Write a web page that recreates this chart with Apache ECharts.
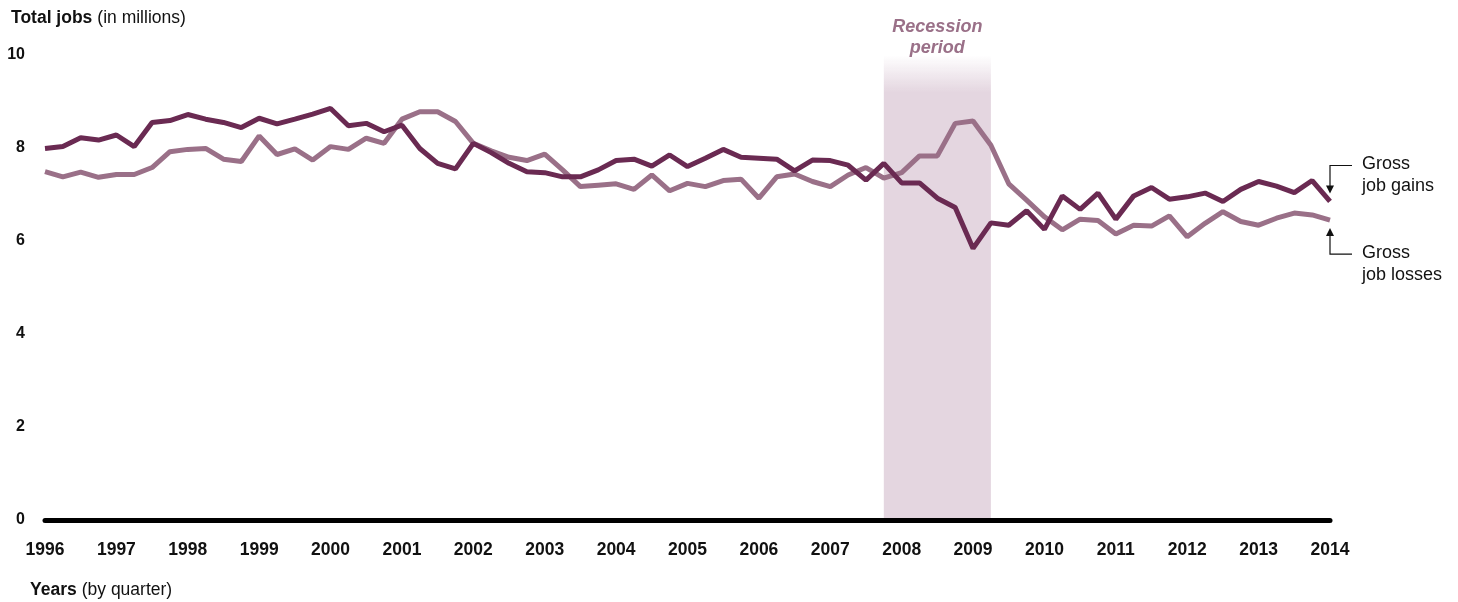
<!DOCTYPE html>
<html>
<head>
<meta charset="utf-8">
<script src="https://cdn.jsdelivr.net/npm/echarts@6/dist/echarts.min.js"></script>
<style>
  html, body { margin: 0; padding: 0; background: #fff; }
  #chart { width: 1458px; height: 602px; }
</style>
</head>
<body>
<div id="chart"></div>
<script>
// quarters 1996 Q1 .. 2014 Q1
const years = [];
for (let y = 1996; y <= 2014; y++) years.push(y);
const quarters = [];
years.forEach(y => {
  for (let q = 1; q <= 4; q++) {
    if (y === 2014 && q > 1) break;
    quarters.push(y + ' Q' + q);
  }
});

// Gross job gains (millions)
const gains = [
  7.99, 8.03, 8.22, 8.17, 8.28, 8.03, 8.55, 8.59, 8.72, 8.62,
  8.55, 8.44, 8.64, 8.52, 8.62, 8.73, 8.85, 8.48, 8.53, 8.35,
  8.49, 7.99, 7.67, 7.55, 8.10, 7.90, 7.67, 7.49, 7.47, 7.38,
  7.38, 7.53, 7.73, 7.76, 7.61, 7.85, 7.60, 7.78, 7.97, 7.80,
  7.78, 7.76, 7.51, 7.74, 7.73, 7.63, 7.31, 7.67, 7.25, 7.25,
  6.92, 6.72, 5.84, 6.39, 6.34, 6.65, 6.25, 6.97, 6.68, 7.03,
  6.47, 6.97, 7.15, 6.90, 6.95, 7.03, 6.85, 7.11, 7.28, 7.18,
  7.04, 7.30, 6.85
];

// Gross job losses (millions)
const losses = [
  7.49, 7.38, 7.48, 7.37, 7.43, 7.43, 7.58, 7.92, 7.97, 7.99,
  7.76, 7.71, 8.26, 7.86, 7.98, 7.74, 8.03, 7.97, 8.21, 8.10,
  8.62, 8.78, 8.78, 8.57, 8.10, 7.94, 7.80, 7.73, 7.87, 7.53,
  7.17, 7.20, 7.23, 7.11, 7.42, 7.08, 7.24, 7.17, 7.30, 7.33,
  6.92, 7.38, 7.44, 7.28, 7.17, 7.42, 7.58, 7.35, 7.47, 7.83,
  7.83, 8.53, 8.58, 8.06, 7.23, 6.88, 6.52, 6.24, 6.47, 6.44,
  6.15, 6.34, 6.32, 6.54, 6.09, 6.38, 6.63, 6.42, 6.34, 6.49,
  6.60, 6.56, 6.45
];

const recession = ['2007 Q4', '2009 Q2'];

const darkColor = '#6a2a52';
const lightColor = '#9a7088';
const font = 'Liberation Sans, Arial, sans-serif';

const chart = echarts.init(document.getElementById('chart'));

const richTitle = {
  b: { fontFamily: font, fontSize: 17.5, fontWeight: 'bold', color: '#111' },
  n: { fontFamily: font, fontSize: 17.5, fontWeight: 'normal', color: '#111' }
};

const option = {
  animation: false,
  textStyle: { fontFamily: font },
  title: [
    {
      text: '{b|Total jobs} {n|(in millions)}',
      left: 6, top: 4,
      textStyle: { fontWeight: 'normal', rich: richTitle }
    },
    {
      text: '{b|Years} {n|(by quarter)}',
      left: 25, top: 576,
      textStyle: { fontWeight: 'normal', rich: richTitle }
    }
  ],
  grid: { left: 45, right: 128, top: 55, bottom: 82 },
  xAxis: {
    type: 'category',
    data: quarters,
    boundaryGap: false,
    z: 10,
    axisLine: { lineStyle: { color: '#000', width: 5 } },
    axisTick: { show: false },
    axisLabel: {
      interval: 3,
      margin: 21,
      fontSize: 17.5,
      fontWeight: 'bold',
      color: '#111',
      formatter: v => v.slice(0, 4)
    },
    splitLine: { show: false }
  },
  yAxis: {
    type: 'value',
    min: 0, max: 10, interval: 2,
    axisLine: { show: false },
    axisTick: { show: false },
    splitLine: { show: false },
    axisLabel: { margin: 20, fontSize: 16, fontWeight: 'bold', color: '#111' }
  },
  series: [
    {
      name: 'Gross job losses',
      type: 'line',
      data: losses,
      symbol: 'none',
      clip: false,
      lineStyle: { color: lightColor, width: 5 },
      z: 2,
      markArea: {
        silent: true,
        itemStyle: {
          color: {
            type: 'linear', x: 0, y: 0, x2: 0, y2: 1,
            colorStops: [
              { offset: 0, color: 'rgba(228,214,224,0)' },
              { offset: 0.08, color: 'rgba(228,214,224,1)' },
              { offset: 1, color: 'rgba(228,214,224,1)' }
            ]
          }
        },
        label: {
          show: true,
          position: 'insideTop',
          offset: [0, -43],
          formatter: 'Recession\nperiod',
          fontFamily: font,
          fontSize: 18,
          fontWeight: 'bold',
          fontStyle: 'italic',
          lineHeight: 21,
          color: '#9a7088'
        },
        data: [[{ xAxis: recession[0], yAxis: 10.22 }, { xAxis: recession[1], yAxis: 0 }]]
      }
    },
    {
      name: 'Gross job gains',
      type: 'line',
      data: gains,
      symbol: 'none',
      lineStyle: { color: darkColor, width: 5 },
      z: 3
    }
  ]
};

chart.setOption(option);

// right-side annotations anchored to the last points
const last = quarters.length - 1;
const pGain = chart.convertToPixel({ seriesIndex: 1 }, [last, gains[last]]);
const pLoss = chart.convertToPixel({ seriesIndex: 0 }, [last, losses[last]]);
const lineX = pGain[0];
const hookEnd = lineX + 22;
const textX = lineX + 32;
const stroke = { stroke: '#111', lineWidth: 1.2 };
const txt = { fontFamily: font, fontSize: 18, fill: '#111', lineHeight: 22 };

const gTip = pGain[1] - 8;
const gTop = gTip - 28;
const lTip = pLoss[1] + 8;
const lBot = lTip + 26;

chart.setOption({
  graphic: [
    { type: 'polyline', shape: { points: [[hookEnd, gTop], [lineX, gTop], [lineX, gTip - 6]] }, style: stroke },
    { type: 'polygon', shape: { points: [[lineX - 4, gTip - 8], [lineX + 4, gTip - 8], [lineX, gTip]] }, style: { fill: '#111' } },
    { type: 'text', left: textX, top: gTop - 12, style: Object.assign({ text: 'Gross\njob gains' }, txt) },
    { type: 'polyline', shape: { points: [[hookEnd, lBot], [lineX, lBot], [lineX, lTip + 6]] }, style: stroke },
    { type: 'polygon', shape: { points: [[lineX - 4, lTip + 8], [lineX + 4, lTip + 8], [lineX, lTip]] }, style: { fill: '#111' } },
    { type: 'text', left: textX, top: lBot - 12, style: Object.assign({ text: 'Gross\njob losses' }, txt) }
  ]
});
</script>
</body>
</html>
